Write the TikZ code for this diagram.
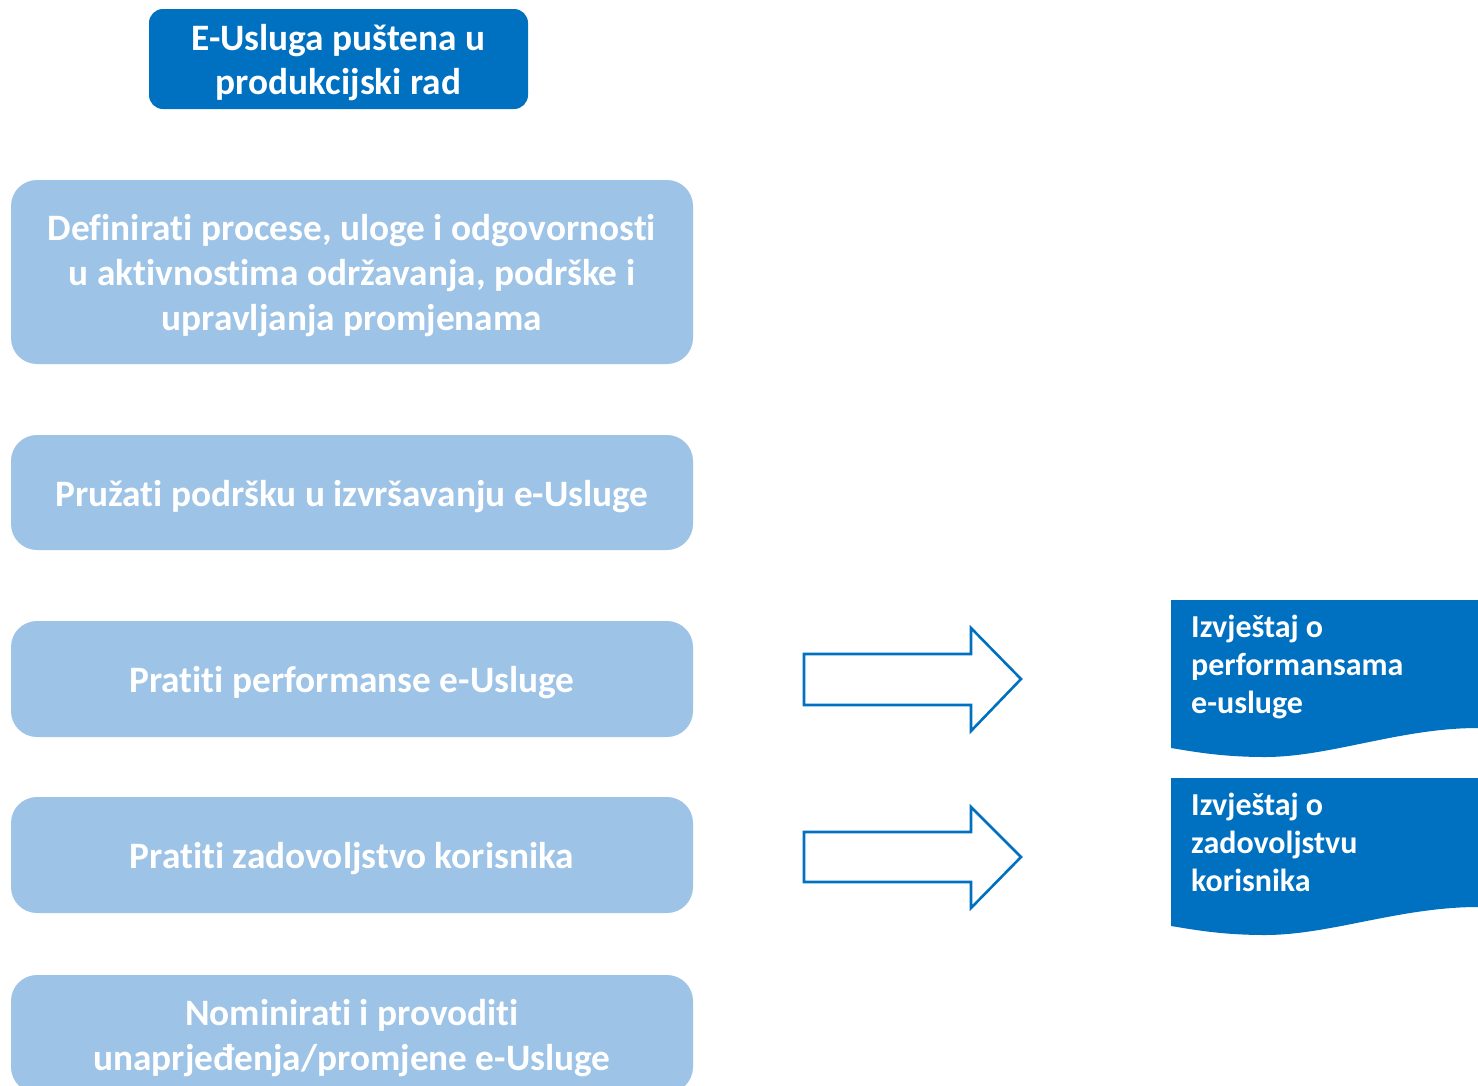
\documentclass[tikz,border=0pt]{standalone}
\usepackage{fontspec}
\setmainfont{Carlito}[Ligatures=NoCommon]
\definecolor{darkblue}{HTML}{0070C0}
\definecolor{lightblue}{HTML}{9DC3E6}
\begin{document}
\begin{tikzpicture}[x=1pt,y=-1pt,
  startbox/.style={fill=darkblue, rounded corners=14pt, minimum width=379pt,
    minimum height=100pt, inner sep=0pt},
  taskbox/.style={fill=lightblue, rounded corners=26pt, minimum width=682pt, inner sep=0pt},
  boxtext/.style={text=white, align=center, inner sep=0pt, yshift=-4pt,
    font=\fontsize{37.3}{45}\selectfont\bfseries},
  outarrow/.style={draw=darkblue, line width=2.6pt, fill=white},
  docshape/.style={fill=darkblue},
  doctext/.style={text=white, align=left, anchor=base west, inner sep=0pt,
    font=\fontsize{32}{38}\selectfont\bfseries}]
\useasboundingbox (0,0) rectangle (1478,1085);
\clip (0,0) rectangle (1478,1085);

% start of the process
\node[startbox] (start) at (338.5,59) {};
\node[boxtext, font=\fontsize{37.3}{44}\selectfont\bfseries] (starttext) at (start)
  {E-Usluga puštena u\\produkcijski rad};

% process steps
\node[taskbox, minimum height=184pt] (define) at (352,272) {};
\node[boxtext] (definetext) at (define)
  {Definirati procese, uloge i odgovornosti\\u aktivnostima održavanja, podrške i\\upravljanja promjenama};
\node[taskbox, minimum height=115pt] (support) at (352,492.5) {};
\node[boxtext] (supporttext) at (support) {Pružati podršku u izvršavanju e-Usluge};
\node[taskbox, minimum height=116pt] (perf) at (352,679) {};
\node[boxtext] (perftext) at (perf) {Pratiti performanse e-Usluge};
\node[taskbox, minimum height=116pt] (satis) at (352,855) {};
\node[boxtext] (satistext) at (satis) {Pratiti zadovoljstvo korisnika};
\node[taskbox, minimum height=118pt] (improve) at (352,1034) {};
\node[boxtext] (improvetext) at (improve) {Nominirati i provoditi\\unaprjeđenja/promjene e-Usluge};

% outlined block arrows
\draw[outarrow] (804,654) -- (971,654) -- (971,628) -- (1021,679) -- (971,731)
  -- (971,705) -- (804,705) -- cycle;
\draw[outarrow] (804,832) -- (971,832) -- (971,807) -- (1021,857) -- (971,908)
  -- (971,882) -- (804,882) -- cycle;

% report documents (text anchored at the baseline of the last line)
\fill[docshape] (1171,600) -- (1478,600) -- (1478,728)
  .. controls (1400,728) and (1330,757) .. (1265,757)
  .. controls (1220,757) and (1190,751) .. (1171,748) -- cycle;
\node[doctext] (perfreport) at (1191,713) {Izvještaj o\\performansama\\e-usluge};

\fill[docshape] (1171,778) -- (1478,778) -- (1478,907)
  .. controls (1400,907) and (1330,935) .. (1265,935)
  .. controls (1220,935) and (1190,929) .. (1171,926) -- cycle;
\node[doctext] (satisreport) at (1191,891) {Izvještaj o\\zadovoljstvu\\korisnika};
\end{tikzpicture}
\end{document}
